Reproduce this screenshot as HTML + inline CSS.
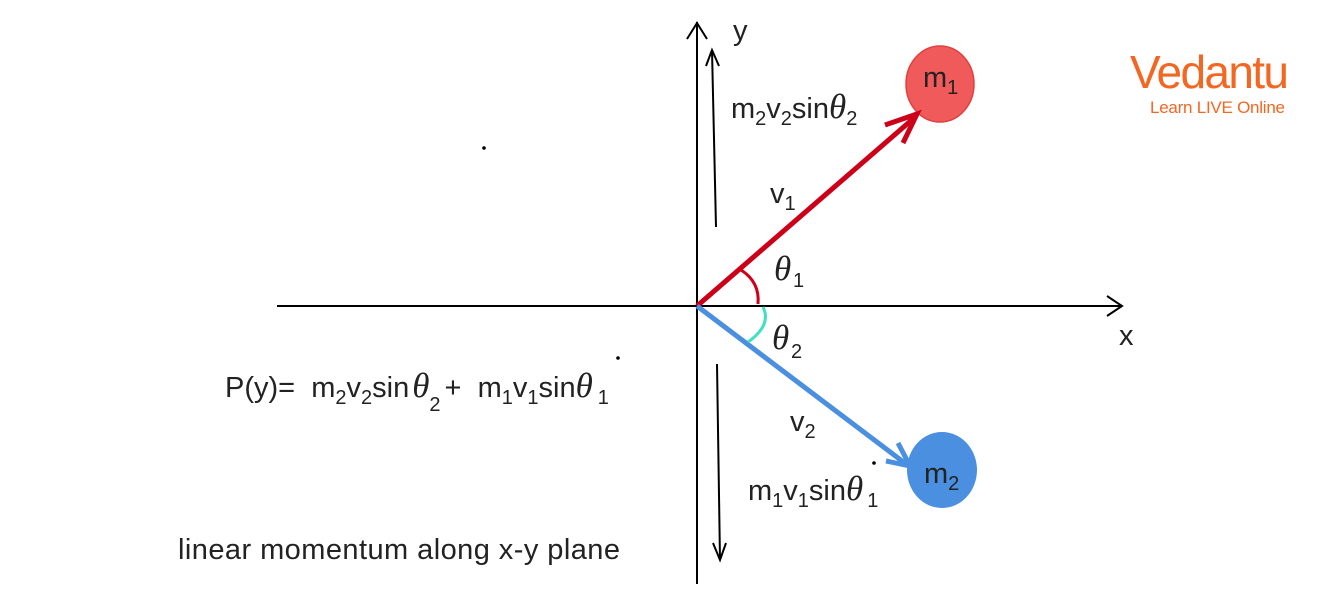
<!DOCTYPE html>
<html><head><meta charset="utf-8"><style>
html,body{margin:0;padding:0;background:#fff;width:1324px;height:604px;overflow:hidden}
svg{display:block}
text{font-family:"Liberation Sans",Arial,sans-serif;fill:#222;white-space:pre}
.t{font-size:29px}
.s{font-size:20px}
.th{font-family:"Liberation Serif",serif;font-style:italic;font-size:35px}
</style></head><body>
<svg width="1324" height="604" viewBox="0 0 1324 604" xmlns="http://www.w3.org/2000/svg">
<line x1="697" y1="22" x2="697" y2="584" stroke="#000" stroke-width="2"/>
<polyline points="687,39 697,23 707,39" fill="none" stroke="#000" stroke-width="2"/>
<line x1="277" y1="306" x2="1122" y2="306" stroke="#000" stroke-width="2"/>
<polyline points="1107,296 1122,306 1107,316" fill="none" stroke="#000" stroke-width="2"/>
<line x1="716" y1="227" x2="712" y2="50" stroke="#000" stroke-width="2"/>
<polyline points="706,66 712,50 719,66" fill="none" stroke="#000" stroke-width="2"/>
<line x1="717" y1="364" x2="720" y2="560" stroke="#000" stroke-width="2"/>
<polyline points="713,543 720,560 726,543" fill="none" stroke="#000" stroke-width="2"/>
<ellipse cx="940" cy="84" rx="34" ry="38" fill="#f05a5a" stroke="#e04040" stroke-width="1.5"/>
<ellipse cx="942" cy="470" rx="35" ry="38" fill="#4a8fe0"/>
<line x1="697" y1="306" x2="914" y2="118" stroke="#cc0018" stroke-width="5"/>
<polyline points="885,125 917,114 903,143" fill="none" stroke="#cc0018" stroke-width="5"/>
<line x1="697" y1="306" x2="906" y2="464" stroke="#4a8fe0" stroke-width="5"/>
<polyline points="898,443 910,466 886,461" fill="none" stroke="#4a8fe0" stroke-width="5"/>
<path d="M741,270 Q760,282 758,304" fill="none" stroke="#cc0018" stroke-width="3"/>
<path d="M763,307 Q772,325 748,342" fill="none" stroke="#40e0c0" stroke-width="3"/>
<circle cx="484" cy="148" r="1.8" fill="#000"/>
<circle cx="618" cy="358" r="1.8" fill="#000"/>
<circle cx="874" cy="463" r="1.8" fill="#000"/>
<text class="t" x="733" y="40">y</text>
<text class="t" x="1119" y="345">x</text>
<text class="t" x="923" y="87">m<tspan class="s" dy="7">1</tspan></text>
<text class="t" x="924" y="483">m<tspan class="s" dy="7">2</tspan></text>
<text class="t" x="731" y="118">m<tspan class="s" dy="7">2</tspan><tspan dy="-7">v</tspan><tspan class="s" dy="7">2</tspan><tspan dy="-7">sin</tspan><tspan class="th">θ</tspan><tspan class="s" dy="7">2</tspan></text>
<text class="t" x="770" y="203">v<tspan class="s" dy="7">1</tspan></text>
<text class="th" x="774" y="280">θ</text><text class="s" x="793" y="287">1</text>
<text class="th" x="772" y="349">θ</text><text class="s" x="791" y="358">2</text>
<text class="t" x="790" y="431">v<tspan class="s" dy="7">2</tspan></text>
<text class="t" x="748" y="500">m<tspan class="s" dy="7">1</tspan><tspan dy="-7">v</tspan><tspan class="s" dy="7">1</tspan><tspan dy="-7">sin</tspan><tspan class="th">θ</tspan><tspan class="s" dx="4" dy="7">1</tspan></text>
<text class="t" x="225" y="397">P(y)=  m<tspan class="s" dy="7">2</tspan><tspan dy="-7">v</tspan><tspan class="s" dy="7">2</tspan><tspan dy="-7">sin</tspan><tspan class="th" dx="3">θ</tspan><tspan class="s" dy="14">2</tspan><tspan dx="4" dy="-14">+  m</tspan><tspan class="s" dy="7">1</tspan><tspan dy="-7">v</tspan><tspan class="s" dy="7">1</tspan><tspan dy="-7">sin</tspan><tspan class="th">θ</tspan><tspan class="s" dx="5" dy="7">1</tspan></text>
<text class="t" x="178" y="559" textLength="442">linear momentum along x-y plane</text>
<text x="1130" y="88" style="font-family:'Liberation Sans',sans-serif;font-size:46px;fill:#f26722;letter-spacing:-1px" textLength="158">Vedantu</text>
<text x="1150" y="113" style="font-family:'Liberation Sans',sans-serif;font-size:17px;fill:#f26722" textLength="135">Learn LIVE Online</text>
</svg>
</body></html>
